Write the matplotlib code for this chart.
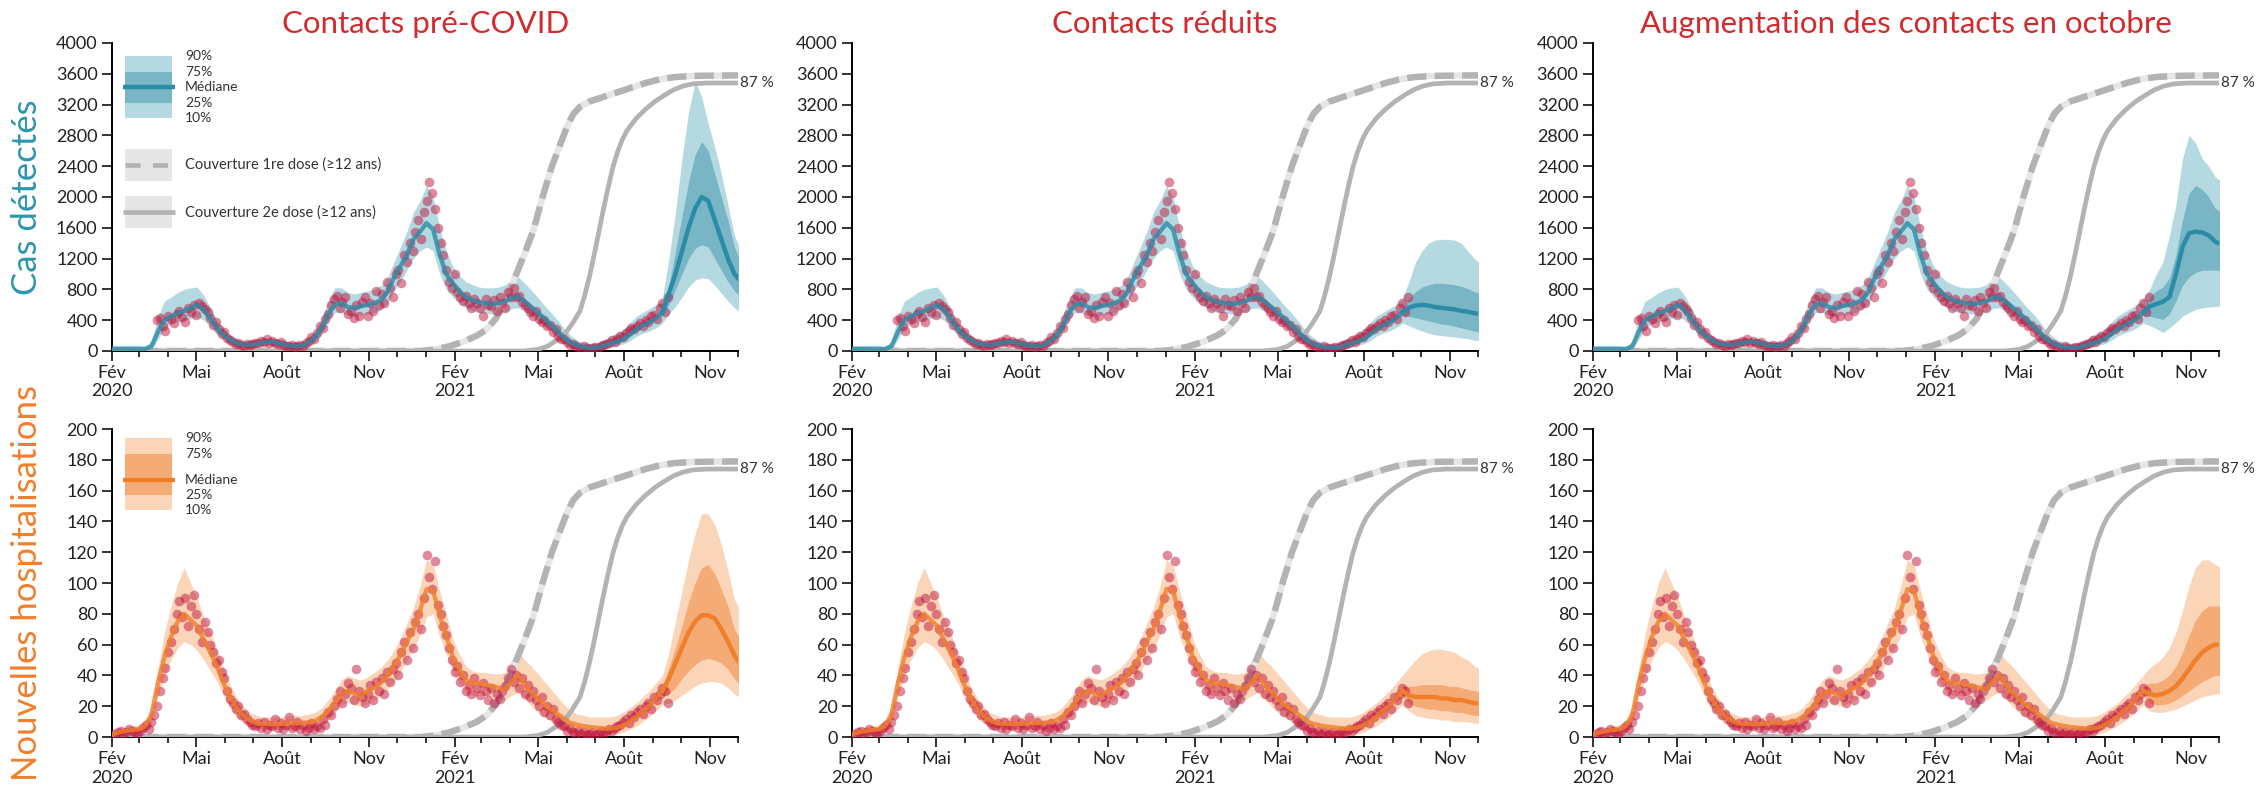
import numpy as np
import matplotlib
matplotlib.use("Agg")
import matplotlib.pyplot as plt
import matplotlib.dates as mdates
from matplotlib.patches import Rectangle

plt.rcParams['font.family'] = ['Lato', 'DejaVu Sans']

START = np.datetime64('2020-02-01')

titles = ["Contacts pré-COVID", "Contacts réduits", "Augmentation des contacts en octobre"]
row_labels = ["Cas détectés", "Nouvelles hospitalisations"]
month_names = {2: "Fév", 5: "Mai", 8: "Août", 11: "Nov"}

# model fit, weekly from 2020-02-01 (day 0) to day 588
fit_days = np.arange(0, 589, 7)
cases_med = [30, 30, 30, 30, 30, 25, 60, 250, 400, 450,
             490, 520, 560, 600, 540, 420, 300, 210, 150, 100,
             85, 80, 90, 110, 120, 110, 90, 70, 60, 70,
             110, 180, 300, 480, 600, 620, 570, 560, 580, 600,
             620, 660, 760, 950, 1100, 1250, 1450, 1550, 1660, 1580,
             1250, 1000, 880, 780, 700, 660, 630, 620, 610, 620,
             640, 690, 700, 640, 570, 500, 420, 340, 260, 170,
             110, 70, 50, 40, 45, 65, 95, 120, 150, 210,
             280, 330, 370, 420, 500]
cases_q90 = [60, 60, 60, 60, 60, 60, 120, 450, 650, 700,
             760, 800, 820, 830, 720, 560, 400, 290, 210, 150,
             130, 130, 140, 160, 170, 160, 140, 110, 100, 110,
             170, 270, 430, 650, 820, 820, 760, 740, 760, 780,
             800, 850, 950, 1150, 1350, 1550, 1800, 1950, 2150, 2000,
             1600, 1300, 1100, 980, 900, 860, 830, 820, 820, 830,
             860, 930, 960, 880, 790, 690, 590, 500, 400, 290,
             200, 140, 110, 100, 110, 140, 190, 230, 280, 360,
             450, 500, 550, 600, 680]
cases_q10 = [0, 0, 0, 0, 0, 0, 20, 150, 300, 350,
             380, 400, 420, 440, 400, 320, 220, 150, 100, 60,
             50, 50, 60, 70, 80, 70, 60, 40, 30, 40,
             70, 120, 220, 380, 500, 500, 460, 450, 470, 480,
             500, 530, 610, 780, 900, 1050, 1200, 1300, 1350, 1300,
             1000, 800, 700, 620, 560, 520, 500, 490, 480, 490,
             510, 550, 560, 510, 460, 390, 320, 250, 170, 100,
             60, 30, 15, 10, 15, 30, 50, 70, 90, 130,
             190, 230, 260, 300, 360]

hosp_med = [2, 3, 4, 4.5, 5, 7, 14, 35, 52, 65,
            75, 80, 76, 72, 63, 55, 46, 35, 26, 19,
            14, 11, 9, 8.5, 8.5, 8.5, 8.5, 9, 9, 9,
            9.5, 10.5, 13, 17, 22, 28, 30, 28, 27, 30,
            32, 35, 40, 46, 53, 62, 70, 82, 96, 95,
            79, 66, 52, 44, 37, 35, 35, 34, 33, 32,
            31, 36, 40, 34, 29, 25, 21, 18, 15, 12,
            9, 8, 7, 6.5, 6, 5.5, 5.5, 6, 7.5, 10,
            13, 17, 20, 25, 30]
hosp_q90 = [4, 5, 6, 7, 8, 11, 20, 45, 68, 85,
            100, 110, 100, 90, 78, 68, 57, 45, 34, 26,
            20, 16, 14, 13, 13, 13, 13, 14, 14, 14,
            15, 16, 19, 24, 30, 37, 40, 38, 37, 39,
            42, 45, 50, 56, 64, 74, 84, 98, 115, 112,
            95, 80, 64, 54, 46, 43, 42, 42, 41, 41,
            42, 50, 56, 50, 46, 41, 36, 31, 26, 21,
            17, 15, 14, 13, 13, 13, 13, 14, 16, 19,
            22, 26, 30, 35, 40]
hosp_q10 = [0.5, 1, 1.5, 2, 2.5, 4, 9, 26, 40, 50,
            58, 62, 60, 56, 50, 43, 36, 27, 19, 13,
            9, 7, 5, 5, 5, 5, 5, 5, 5, 5,
            5.5, 6, 8, 11, 16, 21, 23, 21, 20, 22,
            24, 27, 31, 36, 42, 50, 57, 66, 78, 80,
            65, 54, 42, 35, 29, 27, 27, 27, 26, 25,
            24, 27, 29, 25, 20, 16, 13, 10, 7, 5,
            3, 2, 1.5, 1, 1, 1, 1.5, 2, 3, 5,
            7, 10, 13, 17, 21]

# projections, weekly from day 588 to 672, one list per scenario
proj_days = np.arange(588, 673, 7)
cases_proj_med = [
    [500, 750, 1000, 1300, 1600, 1850, 2000, 1950, 1700, 1450, 1200, 1000, 900],
    [500, 560, 590, 600, 590, 570, 560, 550, 540, 520, 510, 490, 480],
    [500, 580, 610, 640, 700, 1000, 1350, 1530, 1550, 1540, 1500, 1420, 1380]]
cases_proj_q90 = [
    [680, 1200, 1800, 2500, 3100, 3500, 3300, 2950, 2650, 2300, 1900, 1500, 1300],
    [680, 900, 1150, 1300, 1400, 1440, 1450, 1450, 1440, 1400, 1300, 1200, 1130],
    [680, 800, 1000, 1150, 1500, 1900, 2500, 2800, 2700, 2500, 2400, 2260, 2200]]
cases_proj_q75 = [
    [540, 850, 1300, 1750, 2200, 2550, 2720, 2600, 2300, 2000, 1700, 1350, 1150],
    [540, 680, 770, 830, 860, 880, 880, 870, 860, 840, 810, 770, 740],
    [540, 700, 780, 830, 950, 1250, 1700, 2050, 2150, 2100, 2000, 1850, 1800]]
cases_proj_q25 = [
    [460, 600, 800, 1000, 1200, 1330, 1380, 1350, 1200, 1050, 900, 780, 700],
    [460, 450, 430, 410, 390, 370, 350, 340, 320, 300, 280, 260, 240],
    [460, 450, 430, 410, 480, 650, 850, 960, 1020, 1050, 1050, 1050, 1050]]
cases_proj_q10 = [
    [360, 480, 580, 700, 830, 920, 950, 940, 850, 750, 650, 560, 500],
    [360, 330, 290, 260, 230, 210, 200, 190, 180, 170, 160, 140, 130],
    [360, 330, 290, 240, 300, 370, 450, 500, 540, 560, 570, 580, 580]]

hosp_proj_med = [
    [30, 38, 48, 58, 68, 75, 79, 79, 77, 70, 62, 53, 47],
    [30, 27, 26, 26, 26, 26, 25, 25, 24, 24, 23, 22, 22],
    [30, 28, 27, 28, 30, 33, 38, 44, 50, 55, 58, 60, 60]]
hosp_proj_q90 = [
    [40, 55, 75, 95, 115, 132, 145, 145, 138, 125, 108, 90, 80],
    [40, 45, 50, 54, 56, 57, 57, 56, 55, 52, 50, 46, 44],
    [40, 45, 48, 52, 58, 68, 82, 98, 110, 115, 115, 112, 110]]
hosp_proj_q75 = [
    [33, 45, 58, 72, 88, 100, 110, 112, 106, 96, 85, 70, 62],
    [33, 33, 33, 34, 34, 34, 34, 33, 33, 32, 31, 30, 29],
    [33, 35, 35, 37, 40, 46, 55, 66, 76, 82, 85, 85, 85]]
hosp_proj_q25 = [
    [27, 28, 32, 38, 43, 47, 50, 51, 50, 48, 44, 38, 33],
    [27, 22, 20, 19, 18, 18, 17, 17, 16, 16, 15, 14, 14],
    [27, 22, 21, 21, 22, 24, 27, 30, 33, 36, 38, 40, 40]]
hosp_proj_q10 = [
    [21, 22, 24, 27, 30, 33, 35, 36, 36, 35, 32, 28, 25],
    [21, 17, 14, 13, 12, 12, 11, 11, 10, 10, 10, 9, 9],
    [21, 17, 16, 16, 17, 18, 20, 22, 24, 26, 27, 28, 28]]

# observations, every 3 days
cases_obs_days = np.arange(48, 595, 3)
cases_obs = [400, 430, 330, 260, 450, 410, 360, 480, 520, 440,
             380, 560, 500, 600, 470, 620, 580, 540, 500, 430,
             340, 380, 290, 220, 250, 170, 140, 120, 90, 100,
             80, 70, 95, 75, 90, 110, 100, 130, 120, 150,
             110, 130, 100, 90, 120, 80, 70, 60, 75, 50,
             60, 80, 70, 100, 130, 180, 160, 240, 320, 300,
             420, 480, 600, 680, 720, 560, 640, 700, 480, 520,
             430, 600, 450, 640, 700, 460, 620, 520, 780, 600,
             740, 620, 900, 820, 700, 1000, 1050, 880, 1250, 1150,
             1400, 1300, 1550, 1700, 1450, 1800, 1950, 2200, 2050, 1850,
             1600, 1400, 1250, 1050, 900, 820, 1000, 760, 700, 650,
             720, 620, 560, 680, 620, 560, 450, 680, 600, 580,
             660, 520, 700, 620, 560, 760, 700, 820, 700, 720,
             640, 600, 560, 500, 450, 520, 420, 380, 400, 330,
             340, 250, 280, 200, 150, 160, 120, 80, 90, 60,
             50, 30, 60, 40, 25, 35, 50, 45, 60, 80,
             90, 110, 140, 120, 160, 200, 180, 240, 260, 300,
             280, 330, 360, 320, 400, 380, 450, 470, 420, 560,
             620, 500, 700]
hosp_obs_days = np.arange(3, 595, 3)
hosp_obs = [2, 3, 4, 2, 3, 5, 4, 3, 2, 4,
            6, 8, 5, 10, 14, 20, 30, 38, 45, 55,
            62, 70, 80, 88, 78, 90, 72, 85, 92, 80,
            70, 62, 75, 68, 60, 55, 48, 50, 42, 38,
            30, 25, 22, 18, 20, 14, 15, 12, 10, 8,
            7, 9, 6, 10, 5, 8, 7, 12, 6, 9,
            5, 8, 13, 6, 7, 10, 5, 8, 4, 6,
            9, 5, 7, 6, 12, 8, 16, 14, 20, 25,
            30, 22, 28, 35, 32, 24, 44, 30, 26, 22,
            28, 34, 24, 36, 30, 38, 28, 42, 36, 44,
            48, 40, 55, 62, 50, 68, 58, 75, 80, 70,
            90, 118, 104, 96, 114, 86, 80, 72, 66, 58,
            50, 42, 46, 36, 40, 30, 34, 28, 38, 32,
            27, 35, 30, 24, 32, 22, 28, 25, 30, 33,
            38, 44, 36, 40, 32, 38, 28, 34, 26, 30,
            24, 20, 26, 16, 20, 14, 18, 12, 10, 8,
            7, 4, 6, 3, 2, 4, 2, 3, 1, 2,
            3, 1, 2, 4, 2, 3, 5, 4, 6, 7,
            8, 10, 12, 9, 14, 13, 16, 18, 15, 20,
            22, 18, 26, 24, 28, 32, 30, 22]

# vaccine coverage (% of 12+)
dose1_days = [0, 330, 345, 360, 375, 390, 400, 410, 420, 430, 440, 450, 460, 470,
              480, 487, 493, 500, 510, 525, 540, 555, 570, 585, 600, 620, 672]
dose1_pct = [0, 0, 0.5, 1.5, 3, 5, 7, 10.5, 16, 23.5, 31, 39, 50, 60,
             68, 73.5, 77, 79.3, 81, 82.5, 84, 85.5, 87, 88.2, 88.9, 89.3, 89.5]
dose2_days = [0, 440, 455, 465, 475, 485, 492, 500, 505, 510, 515, 520, 525, 530,
              535, 540, 545, 550, 560, 570, 580, 590, 600, 610, 620, 635, 672]
dose2_pct = [0, 0, 0.5, 1.5, 3.5, 6, 9, 13, 18, 24, 31, 38.5, 46, 53,
             59.5, 64.5, 68.5, 71.5, 75.5, 78.5, 81, 83, 84.8, 86, 86.7, 87, 87]

rows = [
    dict(ymax=4000, step=400, med=cases_med, q10=cases_q10, q90=cases_q90,
         pmed=cases_proj_med, p10=cases_proj_q10, p25=cases_proj_q25,
         p75=cases_proj_q75, p90=cases_proj_q90, odays=cases_obs_days, obs=cases_obs,
         c_med='#2c8ca6', c_dark='#79b6c5', c_light='#b5d9e1', c_label='#2c95ad'),
    dict(ymax=200, step=20, med=hosp_med, q10=hosp_q10, q90=hosp_q90,
         pmed=hosp_proj_med, p10=hosp_proj_q10, p25=hosp_proj_q25,
         p75=hosp_proj_q75, p90=hosp_proj_q90, odays=hosp_obs_days, obs=hosp_obs,
         c_med='#f07f2c', c_dark='#f4ab75', c_light='#fbd5b8', c_label='#f07f2c'),
]


def to_date(days):
    return START + np.asarray(days).astype('timedelta64[D]')


def fmt_month(x, pos=None):
    d = mdates.num2date(x)
    name = month_names.get(d.month, "")
    if d.month == 2:
        return name + "\n" + str(d.year)
    return name


def draw_legend(ax, r, top_row):
    tr = ax.transAxes
    if top_row:
        ys = [0.959, 0.907, 0.858, 0.806, 0.758]
    else:
        ys = [0.970, 0.918, 0.834, 0.785, 0.737]
    ax.add_patch(Rectangle((0.0208, ys[4]), 0.075, ys[0] - ys[4], transform=tr,
                           color=r['c_light'], lw=0, zorder=6))
    ax.add_patch(Rectangle((0.0208, ys[3]), 0.075, ys[1] - ys[3], transform=tr,
                           color=r['c_dark'], lw=0, zorder=6))
    ax.plot([0.0171, 0.1006], [ys[2], ys[2]], transform=tr, color=r['c_med'],
            lw=3.2, zorder=7, solid_capstyle='butt')
    for y, t in zip(ys, ["90%", "75%", "Médiane", "25%", "10%"]):
        ax.text(0.1166, y, t, transform=tr, fontsize=10, va='center',
                color='#333333', zorder=7)
    if top_row:
        for yb, ls, t in [(0.553, 'dash', "Couverture 1re dose (≥12 ans)"),
                          (0.400, 'solid', "Couverture 2e dose (≥12 ans)")]:
            ax.add_patch(Rectangle((0.0208, yb), 0.075, 0.102, transform=tr,
                                   color='#e6e6e6', lw=0, zorder=6))
            yl = yb + 0.051
            if ls == 'dash':
                ax.plot([0.0208, 0.0958], [yl, yl], transform=tr, color='#b3b3b3',
                        lw=3.4, dashes=(3.2, 2.6), zorder=7, dash_capstyle='butt')
            else:
                ax.plot([0.0171, 0.1006], [yl, yl], transform=tr, color='#b3b3b3',
                        lw=3.4, zorder=7, solid_capstyle='butt')
            ax.text(0.1166, yl, t, transform=tr, fontsize=10.5, va='center',
                    color='#333333', zorder=7)


fig = plt.figure(figsize=(22.56, 7.93), dpi=100)
lefts = [0.0497, 0.3777, 0.7061]
bottoms = [0.5574, 0.0706]

for ri, r in enumerate(rows):
    vscale = r['ymax'] * 1.0 / 100.0
    for ci in range(3):
        ax = fig.add_axes([lefts[ci], bottoms[ri], 0.2775, 0.3884])
        fx = to_date(fit_days)
        px = to_date(proj_days)
        ax.fill_between(fx, r['q10'], r['q90'], color=r['c_light'], lw=0, zorder=1)
        ax.fill_between(px, r['p10'][ci], r['p90'][ci], color=r['c_light'], lw=0, zorder=1)
        ax.fill_between(px, r['p25'][ci], r['p75'][ci], color=r['c_dark'], lw=0, zorder=2)

        # vaccine coverage
        d1 = np.array(dose1_pct) * vscale
        d2 = np.array(dose2_pct) * vscale
        ax.plot(to_date(dose1_days), d1, color='#e6e6e6', lw=4.6, zorder=3,
                solid_capstyle='butt')
        ax.plot(to_date(dose1_days), d1, color='#b3b3b3', lw=4.6, zorder=3,
                dashes=(3.0, 1.3), dash_capstyle='butt')
        ax.plot(to_date(dose2_days), d2, color='#b3b3b3', lw=3.4, zorder=3)
        ax.text(to_date([671])[0], 87 * vscale, "87 %", fontsize=11,
                va='center', ha='left', color='#333333', clip_on=False)

        ax.scatter(to_date(r['odays']), r['obs'], s=48, color='#c0143c',
                   alpha=0.5, lw=0, zorder=4)
        ax.plot(fx, r['med'], color=r['c_med'], lw=3.2, alpha=0.8, zorder=5)
        ax.plot(px, r['pmed'][ci], color=r['c_med'], lw=3.2, zorder=5)

        ax.set_xlim(np.datetime64('2020-02-01'), np.datetime64('2021-12-01'))
        ax.set_ylim(0, r['ymax'])
        ax.set_yticks(np.arange(0, r['ymax'] + 1, r['step']))
        ax.xaxis.set_major_locator(mdates.MonthLocator(bymonth=[2, 5, 8, 11]))
        ax.xaxis.set_minor_locator(mdates.MonthLocator())
        ax.xaxis.set_major_formatter(plt.FuncFormatter(fmt_month))
        for s in ['top', 'right']:
            ax.spines[s].set_visible(False)
        for s in ['left', 'bottom']:
            ax.spines[s].set_linewidth(1.4)
        ax.tick_params(axis='both', which='major', length=7, width=1.3,
                       labelsize=13, colors='#222222')
        ax.tick_params(axis='x', which='minor', length=4, width=1.1)
        ax.tick_params(axis='x', pad=3)

        if ri == 0:
            ax.set_title(titles[ci], color='#d32a2e', fontsize=22.5, pad=7)
        if ci == 0:
            draw_legend(ax, r, ri == 0)

    yc = bottoms[ri] + 0.3884 / 2
    fig.text(0.012, yc, row_labels[ri], rotation=90, va='center', ha='center',
             fontsize=25, color=r['c_label'])

fig.savefig("out.png", dpi=100)
